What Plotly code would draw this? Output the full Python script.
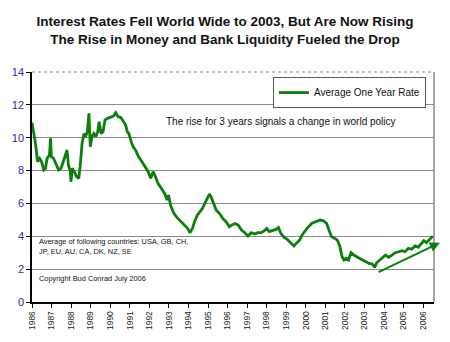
import plotly.graph_objects as go

# Average one-year interest rate (decimal year, percent)
years = [
    1986.00, 1986.07, 1986.15, 1986.22, 1986.28, 1986.39, 1986.49, 1986.60, 1986.69, 1986.77,
    1986.89, 1986.95, 1986.99, 1987.10, 1987.22, 1987.36, 1987.49, 1987.59, 1987.69, 1987.79,
    1987.86, 1987.96, 1987.99, 1988.06, 1988.16, 1988.28, 1988.39, 1988.46, 1988.56, 1988.66,
    1988.73, 1988.83, 1988.91, 1988.98, 1989.06, 1989.16, 1989.26, 1989.36, 1989.43, 1989.53,
    1989.63, 1989.73, 1989.86, 1990.03, 1990.17, 1990.28, 1990.40, 1990.53, 1990.67, 1990.79,
    1990.87, 1990.95, 1991.07, 1991.17, 1991.29, 1991.45, 1991.62, 1991.77, 1991.94, 1992.07,
    1992.19, 1992.31, 1992.44, 1992.61, 1992.78, 1992.91, 1992.98, 1993.08, 1993.25, 1993.41,
    1993.61, 1993.78, 1993.95, 1994.08, 1994.20, 1994.31, 1994.45, 1994.58, 1994.72, 1994.87,
    1994.98, 1995.07, 1995.15, 1995.28, 1995.42, 1995.58, 1995.75, 1995.92, 1996.09, 1996.20,
    1996.37, 1996.54, 1996.71, 1996.88, 1997.04, 1997.21, 1997.38, 1997.54, 1997.71, 1997.88,
    1998.00, 1998.13, 1998.30, 1998.47, 1998.60, 1998.72, 1998.89, 1999.05, 1999.22, 1999.39,
    1999.51, 1999.68, 1999.81, 2000.06, 2000.31, 2000.56, 2000.73, 2000.89, 2001.06, 2001.18,
    2001.31, 2001.48, 2001.61, 2001.73, 2001.85, 2001.95, 2002.06, 2002.18, 2002.31, 2002.45,
    2002.56, 2002.73, 2002.90, 2003.06, 2003.23, 2003.40, 2003.52, 2003.62, 2003.79, 2003.95,
    2004.07, 2004.24, 2004.40, 2004.57, 2004.74, 2004.91, 2005.07, 2005.24, 2005.41, 2005.58,
    2005.74, 2005.91, 2006.03, 2006.16, 2006.33, 2006.49,
]
rates = [
    10.91, 10.47, 9.86, 9.25, 8.54, 8.74, 8.54, 8.04, 8.14, 8.74,
    8.94, 9.96, 8.84, 8.74, 8.44, 8.04, 8.14, 8.54, 8.84, 9.25,
    8.34, 7.93, 7.32, 8.14, 7.93, 7.63, 7.53, 8.24, 9.65, 10.26,
    10.06, 10.36, 11.48, 9.45, 10.06, 10.26, 10.06, 10.36, 10.97, 10.26,
    10.36, 11.08, 11.18, 11.28, 11.32, 11.52, 11.28, 11.24, 10.97, 10.77,
    10.36, 10.26, 9.76, 9.45, 9.25, 8.84, 8.54, 8.24, 7.93, 7.53,
    7.93, 7.63, 7.22, 6.92, 6.61, 6.21, 6.51, 5.90, 5.40, 5.15,
    4.89, 4.68, 4.48, 4.22, 4.48, 4.89, 5.29, 5.49, 5.70, 6.10,
    6.41, 6.57, 6.41, 6.00, 5.59, 5.40, 5.09, 4.89, 4.58, 4.68,
    4.78, 4.68, 4.38, 4.22, 4.02, 4.22, 4.14, 4.22, 4.22, 4.34,
    4.48, 4.28, 4.34, 4.42, 4.54, 4.18, 3.93, 3.81, 3.61, 3.41,
    3.57, 3.77, 4.08, 4.48, 4.79, 4.89, 4.99, 4.95, 4.79, 4.38,
    3.98, 3.87, 3.77, 3.41, 2.76, 2.56, 2.66, 2.56, 3.00, 2.86,
    2.76, 2.66, 2.56, 2.46, 2.35, 2.31, 2.11, 2.39, 2.56, 2.72,
    2.86, 2.72, 2.86, 3.00, 3.06, 3.12, 3.06, 3.27, 3.21, 3.41,
    3.33, 3.53, 3.73, 3.61, 3.81, 4.01,
]

year_ticks = list(range(1986, 2007))
year_labels = [str(y) for y in year_ticks]
rate_ticks = [0, 2, 4, 6, 8, 10, 12, 14]

# Trend arrow for the recent rise: start and end points
trend_start = (2003.64, 1.78)
trend_end = (2006.85, 3.61)

GREEN = "#0a800a"
FONT = "Liberation Sans, Arial, sans-serif"

fig = go.Figure()
fig.add_trace(go.Scatter(
    x=years, y=rates, mode="lines", name="Average One Year Rate",
    line=dict(color=GREEN, width=2.8),
))

fig.update_layout(
    width=450, height=342,
    margin=dict(l=25, r=16, t=72, b=40),
    paper_bgcolor="white", plot_bgcolor="white",
    font=dict(family=FONT, color="#000"),
    title=dict(
        text="Interest Rates Fell World Wide to 2003, But Are Now Rising<br>"
             "The Rise in Money and Bank Liquidity Fueled the Drop",
        font=dict(size=13.5, color="#111", weight="bold"),
        x=0.5, xanchor="center", xref="container",
        y=1 - 26 / 342, yanchor="middle", yref="container",
    ),
    showlegend=True,
    legend=dict(
        x=0.98, xanchor="right", y=0.978, yanchor="top",
        bgcolor="white", bordercolor="#555", borderwidth=1,
        font=dict(size=10, color="#111"),
        itemwidth=30, tracegroupgap=0,
    ),
    xaxis=dict(
        range=[1986, 2006.55], tickmode="array",
        tickvals=year_ticks, ticktext=year_labels, tickangle=-90,
        tickfont=dict(size=8.5, family="Liberation Sans Narrow, Arial Narrow, Liberation Sans", color="#222"),
        ticks="outside", ticklen=4, tickcolor="#000",
        showline=True, linecolor="#000", linewidth=1.5,
        showgrid=False, zeroline=False,
    ),
    yaxis=dict(
        range=[0, 14], tickmode="array", tickvals=rate_ticks,
        tickfont=dict(size=11, color="#2b2b9a"),
        ticks="outside", ticklen=4, tickcolor="#000",
        showline=True, linecolor="#000", linewidth=1.5,
        showgrid=True, gridcolor="#8a8a8a", gridwidth=1,
        zeroline=False,
    ),
)

# right-hand frame edge
fig.add_shape(type="line", xref="paper", yref="paper", x0=1, x1=1, y0=0, y1=1,
              line=dict(color="#8a8a8a", width=1.5))
# light top edge
fig.add_shape(type="line", xref="paper", yref="paper", x0=0, x1=1, y0=1, y1=1,
              line=dict(color="#b0b0b0", width=1.5, dash="dot"))

fig.add_annotation(
    x=1998.75, y=10.96, xref="x", yref="y",
    text="The rise for 3 years signals a change in world policy",
    showarrow=False, font=dict(size=10, color="#111"),
)
fig.add_annotation(
    x=0.012, y=3.35, xref="paper", yref="y", xanchor="left", align="left",
    text="Average of following countries: USA, GB, CH,<br>JP, EU, AU, CA, DK, NZ, SE",
    showarrow=False, font=dict(size=7.4, color="#111"),
)
fig.add_annotation(
    x=0.012, y=1.44, xref="paper", yref="y", xanchor="left",
    text="Copyright Bud Conrad July 2006",
    showarrow=False, font=dict(size=7.4, color="#111"),
)
fig.add_annotation(
    x=trend_end[0], y=trend_end[1], ax=trend_start[0], ay=trend_start[1],
    xref="x", yref="y", axref="x", ayref="y", text="",
    showarrow=True, arrowhead=2, arrowsize=1, arrowwidth=2, arrowcolor=GREEN,
)

fig.write_html("out.html")
